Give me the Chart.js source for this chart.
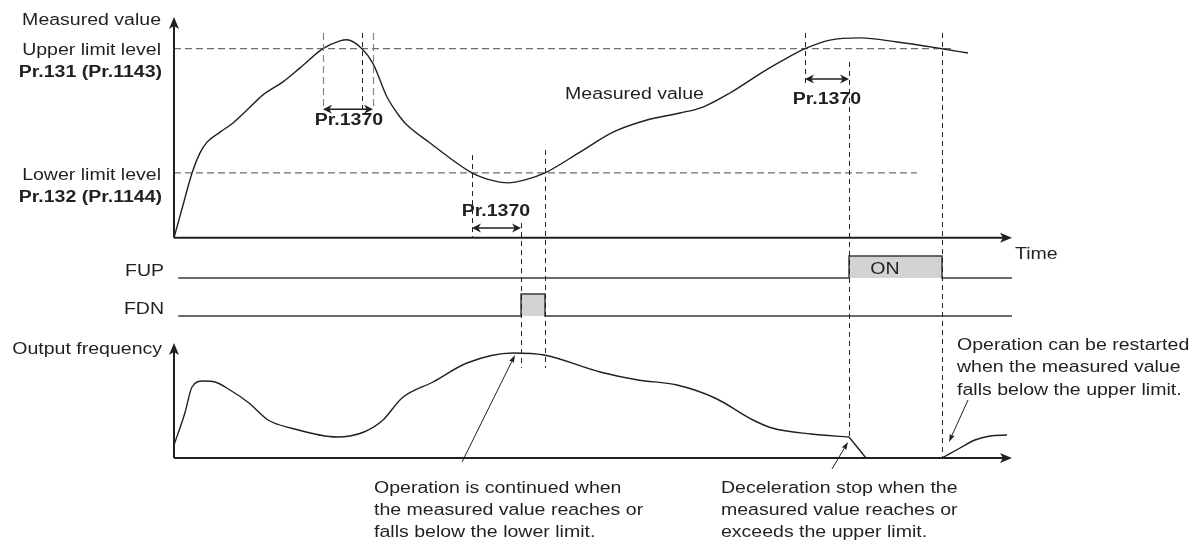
<!DOCTYPE html>
<html>
<head>
<meta charset="utf-8">
<script src="https://cdn.jsdelivr.net/npm/chart.js@4/dist/chart.umd.min.js"></script>
<style>
  html, body { margin: 0; padding: 0; background: #fff; }
  canvas { display: block; }
</style>
</head>
<body>
<canvas id="timing" width="1202" height="542"></canvas>
<script>
// ---- values (time runs 0..100 along the time axis) ----
const UPPER_LIMIT = 70;   // Pr.131 (Pr.1143), % of measured range
const LOWER_LIMIT = 24;   // Pr.132 (Pr.1144)
const UPPER_SPAN = [0, 93.2];
const LOWER_SPAN = [0, 88.66];

// measured value (%)
const MEAS_T = [0, 1.07, 2.15, 3.1, 3.94, 5.49, 7.04, 8.71, 10.62, 13.0, 15.04, 17.78, 19.81, 20.6, 22.43, 23.75, 25.42, 26.97, 27.8, 30.55, 35.56, 37.71, 39.86, 41.89, 44.27, 48.45, 52.39, 56.44, 60.38, 63.13, 66.35, 70.29, 72.32, 75.3, 78.28, 81.86, 86.28, 91.65, 94.75];
const MEAS_V = [0, 12, 24, 31.4, 35.4, 39.1, 42.5, 47.3, 52.9, 57.7, 62.9, 70, 72.9, 73.3, 70, 64.5, 52.1, 44.7, 41.7, 35.1, 24, 21.4, 20.3, 21.4, 24, 31.7, 39.1, 43.6, 46.2, 48.4, 53.6, 61.4, 65.1, 70, 73.2, 74, 72.5, 70, 68.4];

// output frequency (Hz)
const OUT_T = [0, 1.3, 2.15, 3.46, 4.89, 6.68, 8.95, 11.22, 13.96, 19.45, 22.67, 24.94, 27.21, 30.91, 34.96, 40.45, 44.15, 50.84, 55.37, 60.02, 64.56, 69.09, 71.36, 76.01, 80.55];
const OUT_F = [6.5, 22.5, 35.5, 38.5, 38, 34, 27.5, 19, 15, 10.5, 13, 19, 30, 38, 47.5, 52.5, 51.5, 43, 39, 36.5, 30, 19, 15, 12, 10.5];
const DECEL_T = [80.55, 82.58];
const DECEL_F = [10.5, 0];
const RESTART_T = [91.65, 93.8, 95.58, 97.4, 99.4];
const RESTART_F = [0, 5, 9, 11, 11.5];

// output signals (0 = OFF, 1 = ON)
const FUP_T = [0.5, 80.55, 80.55, 91.65, 91.65, 100];
const FUP_S = [0, 0, 1, 1, 0, 0];
const FDN_T = [0.5, 41.41, 41.41, 44.27, 44.27, 100];
const FDN_S = [0, 0, 1, 1, 0, 0];

// Pr.1370 detection windows: [start, end], and the level of each dimension arrow
const DELAY_SPANS = [[17.78, 23.75], [35.56, 41.41], [75.3, 80.55]];
const DELAY_LEVEL = [47.6, 3.6, 58.8];

// event guide lines: time, start [axis, value], end [axis, value], tone
const GUIDE_T    = [17.78, 22.43, 23.75, 35.56, 41.41, 44.27, 75.3, 80.55, 91.65];
const GUIDE_FROM = [['yMeas', 75.8], ['yMeas', 75.8], ['yMeas', 75.8], ['yMeas', 30.6], ['yMeas', 5.4], ['yMeas', 32.5], ['yMeas', 75.8], ['yMeas', 65.1], ['yMeas', 75.8]];
const GUIDE_TO   = [['yMeas', 47.3], ['yMeas', 47.3], ['yMeas', 47.3], ['yMeas', 0], ['yOut', 45], ['yOut', 45], ['yMeas', 55.8], ['yOut', 10.5], ['yOut', 0.5]];
const GUIDE_TONE = ['light', 'dark', 'light', 'dark', 'dark', 'dark', 'dark', 'dark', 'dark'];

// ---- styling ----
const INK = '#231f20';
const FONT = '"Liberation Sans", Arial, sans-serif';
const STRETCH = 1.22;

const pts = (xs, ys) => xs.map((x, i) => ({ x, y: ys[i] }));

function curve(xs, ys, axis, extra) {
  return Object.assign({
    data: pts(xs, ys), yAxisID: axis, borderColor: INK, borderWidth: 1.4,
    pointRadius: 0, fill: false, tension: 0
  }, extra || {});
}

function head(ctx, x, y, ang, len, hw, notch) {
  ctx.save();
  ctx.translate(x, y);
  ctx.rotate(ang);
  ctx.beginPath();
  ctx.moveTo(0, 0);
  ctx.lineTo(-len, -hw);
  ctx.lineTo(-len * notch, 0);
  ctx.lineTo(-len, hw);
  ctx.closePath();
  ctx.fill();
  ctx.restore();
}

function arrow(ctx, x1, y1, x2, y2, o) {
  const ang = Math.atan2(y2 - y1, x2 - x1);
  ctx.save();
  ctx.strokeStyle = INK; ctx.fillStyle = INK; ctx.lineWidth = o.lw; ctx.setLineDash([]);
  ctx.beginPath();
  ctx.moveTo(x1 + (o.both ? Math.cos(ang) * o.len * 0.6 : 0), y1 + (o.both ? Math.sin(ang) * o.len * 0.6 : 0));
  ctx.lineTo(x2 - Math.cos(ang) * o.len * 0.6, y2 - Math.sin(ang) * o.len * 0.6);
  ctx.stroke();
  head(ctx, x2, y2, ang, o.len, o.hw, o.notch);
  if (o.both) head(ctx, x1, y1, ang + Math.PI, o.len, o.hw, o.notch);
  ctx.restore();
}

function text(ctx, str, x, y, align, bold) {
  ctx.save();
  ctx.font = (bold ? 'bold ' : '') + '16px ' + FONT;
  ctx.fillStyle = INK;
  ctx.textBaseline = 'alphabetic';
  ctx.textAlign = align;
  ctx.translate(x, y);
  ctx.scale(STRETCH, 1);
  ctx.fillText(str, 0, 0);
  ctx.restore();
}

// texts anchored in data space: [string, t, axis, value, align, bold]
const LABELS = [
  ['Measured value', -1.55, 'yMeas', 78.67, 'right', false],
  ['Upper limit level', -1.55, 'yMeas', 67.67, 'right', false],
  ['Pr.131 (Pr.1143)', -1.43, 'yMeas', 59.4, 'right', true],
  ['Lower limit level', -1.55, 'yMeas', 21.37, 'right', false],
  ['Pr.132 (Pr.1144)', -1.43, 'yMeas', 13.33, 'right', true],
  ['Pr.1370', 20.88, 'yMeas', 41.74, 'center', true],
  ['Pr.1370', 38.42, 'yMeas', 8.04, 'center', true],
  ['Pr.1370', 77.92, 'yMeas', 49.41, 'center', true],
  ['Measured value', 46.66, 'yMeas', 51.37, 'left', false],
  ['Time', 100.36, 'yMeas', -7.89, 'left', false],
  ['FUP', -1.19, 'yFup', 0.105, 'right', false],
  ['FDN', -1.19, 'yFdn', 0.105, 'right', false],
  ['ON', 84.84, 'yFup', 0.18, 'center', false],
  ['Output frequency', -1.43, 'yOut', 52, 'right', false]
];

// note blocks: lines, t, axis, first baseline value, pointer [tail t, tail f, tip t, tip f]
const NOTES = [
  { lines: ['Operation is continued when', 'the measured value reaches or', 'falls below the lower limit.'],
    t: 23.87, v: -17.35, ptr: [34.37, -2, 40.69, 51.5] },
  { lines: ['Deceleration stop when the', 'measured value reaches or', 'exceeds the upper limit.'],
    t: 65.27, v: -17.35, ptr: [78.52, -5.5, 80.43, 8] },
  { lines: ['Operation can be restarted', 'when the measured value', 'falls below the upper limit.'],
    t: 93.44, v: 54, ptr: [94.75, 29, 92.48, 8] }
];
const NOTE_LINE_GAP = 22.3;

const decorations = {
  id: 'decorations',
  afterDatasetsDraw(chart) {
    const ctx = chart.ctx;
    const X = t => chart.scales.x.getPixelForValue(t);
    const Y = (axis, v) => chart.scales[axis].getPixelForValue(v);

    // event guides
    GUIDE_T.forEach((t, i) => {
      ctx.save();
      const light = GUIDE_TONE[i] === 'light';
      ctx.strokeStyle = light ? '#858585' : INK;
      ctx.lineWidth = light ? 1.2 : 1;
      ctx.setLineDash(light ? [7, 4] : [5, 4]);
      const x = Math.round(X(t)) + 0.5;
      ctx.beginPath();
      ctx.moveTo(x, Y(GUIDE_FROM[i][0], GUIDE_FROM[i][1]));
      ctx.lineTo(x, Y(GUIDE_TO[i][0], GUIDE_TO[i][1]));
      ctx.stroke();
      ctx.restore();
    });

    // axes with arrow heads
    const axisOpt = { lw: 2, len: 12, hw: 5, notch: 0.75 };
    arrow(ctx, X(0), Y('yMeas', 0), X(0), Y('yMeas', 81.7), axisOpt);
    arrow(ctx, X(0), Y('yMeas', 0), X(100), Y('yMeas', 0), axisOpt);
    arrow(ctx, X(0), Y('yOut', 0), X(0), Y('yOut', 57.5), axisOpt);
    arrow(ctx, X(0), Y('yOut', 0), X(100), Y('yOut', 0), axisOpt);

    // Pr.1370 dimension arrows
    DELAY_SPANS.forEach((s, i) => {
      const y = Y('yMeas', DELAY_LEVEL[i]);
      arrow(ctx, X(s[0]), y, X(s[1]), y, { lw: 1.6, len: 9, hw: 4.5, notch: 0.7, both: true });
    });

    // texts
    LABELS.forEach(l => text(ctx, l[0], X(l[1]), Y(l[2], l[3]), l[4], l[5]));

    NOTES.forEach(n => {
      const x = X(n.t), y0 = Y('yOut', n.v);
      n.lines.forEach((s, k) => text(ctx, s, x, y0 + k * NOTE_LINE_GAP, 'left', false));
      const p = n.ptr;
      arrow(ctx, X(p[0]), Y('yOut', p[1]), X(p[2]), Y('yOut', p[3]), { lw: 1, len: 8, hw: 2.6, notch: 0.85 });
    });
  }
};

new Chart(document.getElementById('timing'), {
  type: 'line',
  data: {
    datasets: [
      curve(MEAS_T, MEAS_V, 'yMeas', { cubicInterpolationMode: 'monotone' }),
      curve(UPPER_SPAN, [UPPER_LIMIT, UPPER_LIMIT], 'yMeas', { borderColor: '#6d6e71', borderWidth: 1.3, borderDash: [7, 4] }),
      curve(LOWER_SPAN, [LOWER_LIMIT, LOWER_LIMIT], 'yMeas', { borderColor: '#6d6e71', borderWidth: 1.3, borderDash: [7, 4] }),
      curve(FUP_T, FUP_S, 'yFup', { borderColor: '#3b3b3c', borderWidth: 1.5, fill: { value: 0 }, backgroundColor: '#d1d3d4' }),
      curve(FDN_T, FDN_S, 'yFdn', { borderColor: '#3b3b3c', borderWidth: 1.5, fill: { value: 0 }, backgroundColor: '#d1d3d4' }),
      curve(OUT_T, OUT_F, 'yOut', { cubicInterpolationMode: 'monotone' }),
      curve(DECEL_T, DECEL_F, 'yOut'),
      curve(RESTART_T, RESTART_F, 'yOut', { cubicInterpolationMode: 'monotone' })
    ]
  },
  options: {
    responsive: false,
    animation: false,
    devicePixelRatio: 1,
    layout: { padding: 0 },
    plugins: { legend: { display: false }, tooltip: { enabled: false } },
    scales: {
      x:     { type: 'linear', display: false, min: -20.764, max: 122.673 },
      yMeas: { type: 'linear', display: false, min: -112.70, max: 88.04 },
      yFup:  { type: 'linear', display: false, min: -12, max: 12.636 },
      yFdn:  { type: 'linear', display: false, min: -10.273, max: 14.364 },
      yOut:  { type: 'linear', display: false, min: -42, max: 229 }
    }
  },
  plugins: [decorations]
});
</script>
</body>
</html>
